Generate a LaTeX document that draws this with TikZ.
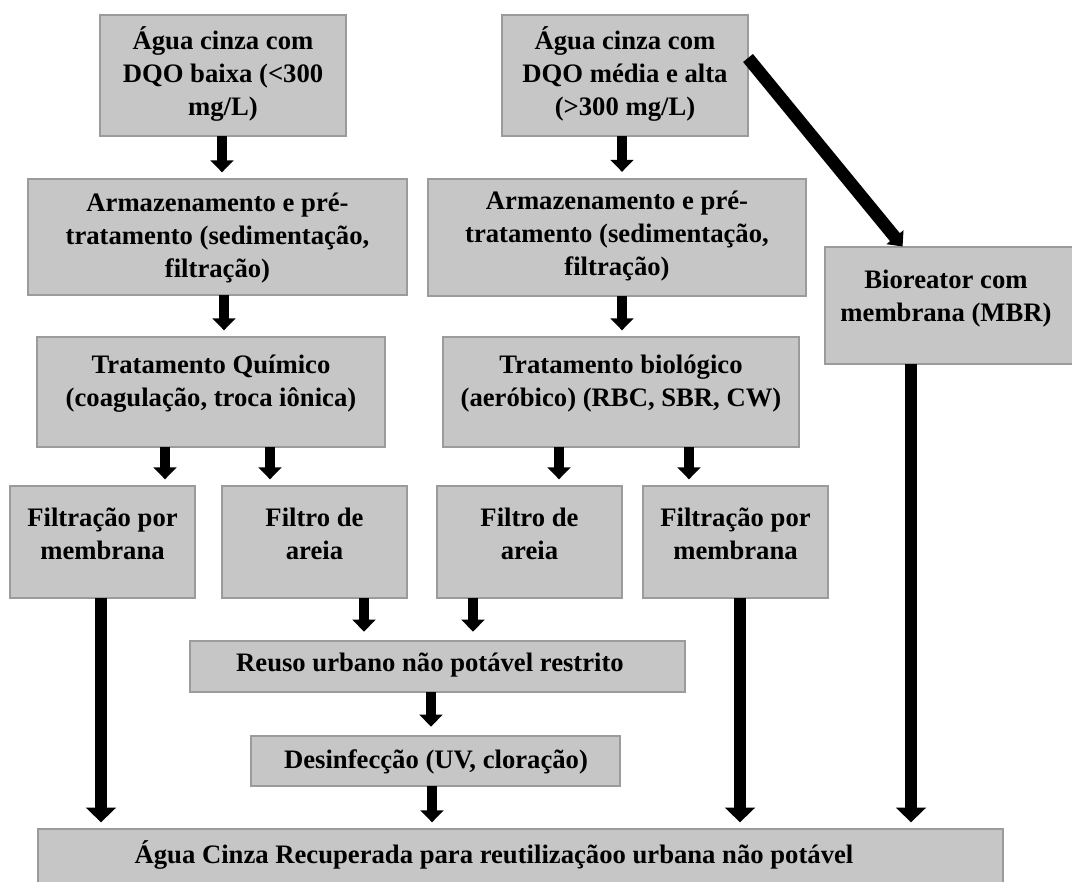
\documentclass[tikz,border=0pt]{standalone}
\usepackage{fontspec}
\setmainfont{Liberation Serif}
\usetikzlibrary{arrows.meta,calc}
\definecolor{boxfill}{RGB}{198,198,198}
\definecolor{boxline}{RGB}{155,155,155}
\begin{document}
\begin{tikzpicture}[x=0.75pt,y=-0.75pt,
  box/.style 2 args={draw=boxline, fill=boxfill, line width=1.5pt,
    minimum width=#1*0.75pt, minimum height=#2*0.75pt, inner sep=0pt, outer sep=0pt},
  txt/.style={font=\bfseries\fontsize{20}{24.75}\selectfont, align=center, inner sep=0pt},
  arr/.style={line width=7.5pt, -{Triangle[width=17pt,length=9pt]}, shorten >=5pt},
  bigarr/.style={line width=9pt, -{Triangle[width=22pt,length=11pt]}, shorten >=5pt},
  diagarr/.style={line width=9.5pt, -{Triangle[width=16pt,length=9pt]}, shorten >=0.5pt}]
\useasboundingbox (0,0) rectangle (1072,882);
\clip (0,0) rectangle (1072,882);
% boxes
\node[box={246}{121}] (b1) at (223,75.5) {};
\node[box={246}{121}] (b2) at (625,75.5) {};
\node[box={379}{116}] (a1) at (217.5,237) {};
\node[box={378}{117}] (a2) at (617,237) {};
\node[box={260}{117}] (mbr) at (955,305.5) {};
\node[box={348}{110}] (tq) at (211,392) {};
\node[box={356}{110}] (tb) at (621,392) {};
\node[box={185}{112}] (f1) at (102.5,542) {};
\node[box={185}{112}] (f2) at (314.5,542) {};
\node[box={185}{112}] (f3) at (529.5,542) {};
\node[box={185}{112}] (f4) at (735.5,542) {};
\node[box={495}{51}] (r) at (437.5,666.5) {};
\node[box={369}{50}] (d) at (435.5,761) {};
\node[box={965}{80}] (fin) at (520.5,869) {};
% arrows
\draw[arr] (b1.south -| 222,0) -- (a1.north -| 222,0);
\draw[arr] (b2.south -| 622,0) -- (a2.north -| 622,0);
\draw[diagarr] (b2.east |- 0,58) -- (mbr.north -| 903,0);
\draw[arr] (a1.south -| 224,0) -- (tq.north -| 224,0);
\draw[arr] (a2.south -| 622,0) -- (tb.north -| 622,0);
\draw[arr] (tq.south -| 165,0) -- (f1.north -| 165,0);
\draw[arr] (tq.south -| 270,0) -- (f2.north -| 270,0);
\draw[arr] (tb.south -| 559,0) -- (f3.north -| 559,0);
\draw[arr] (tb.south -| 689,0) -- (f4.north -| 689,0);
\draw[arr,shorten >=7pt] (f2.south -| 364,0) -- (r.north -| 364,0);
\draw[arr,shorten >=7pt] (f3.south -| 473,0) -- (r.north -| 473,0);
\draw[arr,shorten >=7pt] (r.south -| 431,0) -- (d.north -| 431,0);
\draw[arr] (d.south -| 432,0) -- (fin.north -| 432,0);
\draw[bigarr] (f1.south -| 101,0) -- (fin.north -| 101,0);
\draw[bigarr] (f4.south -| 740,0) -- (fin.north -| 740,0);
\draw[bigarr] (mbr.south -| 911,0) -- (fin.north -| 911,0);
% texts
\node[txt] (t1) at (223,74) {Água cinza com\\DQO baixa (<300\\mg/L)};
\node[txt] (t2) at (625,74) {Água cinza com\\DQO média e alta\\(>300 mg/L)};
\node[txt] (ta1) at (217.5,238) {Armazenamento e pré-\\tratamento (sedimentação,\\filtração)};
\node[txt] (ta2) at (617,236) {Armazenamento e pré-\\tratamento (sedimentação,\\filtração)};
\node[txt] (tmbr) at (946,298.5) {Bioreator com\\membrana (MBR)};
\node[txt] (ttq) at (211,383.5) {Tratamento Químico\\(coagulação, troca iônica)};
\node[txt] (ttb) at (621,383.5) {Tratamento biológico\\(aeróbico) (RBC, SBR, CW)};
\node[txt] (tf1) at (102.5,534) {Filtração por\\membrana};
\node[txt] (tf2) at (314.5,534) {Filtro de\\areia};
\node[txt] (tf3) at (529.5,534) {Filtro de\\areia};
\node[txt] (tf4) at (735.5,534) {Filtração por\\membrana};
\node[txt] (tr) at (430,665) {Reuso urbano não potável restrito};
\node[txt] (td) at (436,762) {Desinfecção (UV, cloração)};
\node[txt] (tfin) at (494,855) {Água Cinza Recuperada para reutilizaçãoo urbana não potável};
\end{tikzpicture}
\end{document}
